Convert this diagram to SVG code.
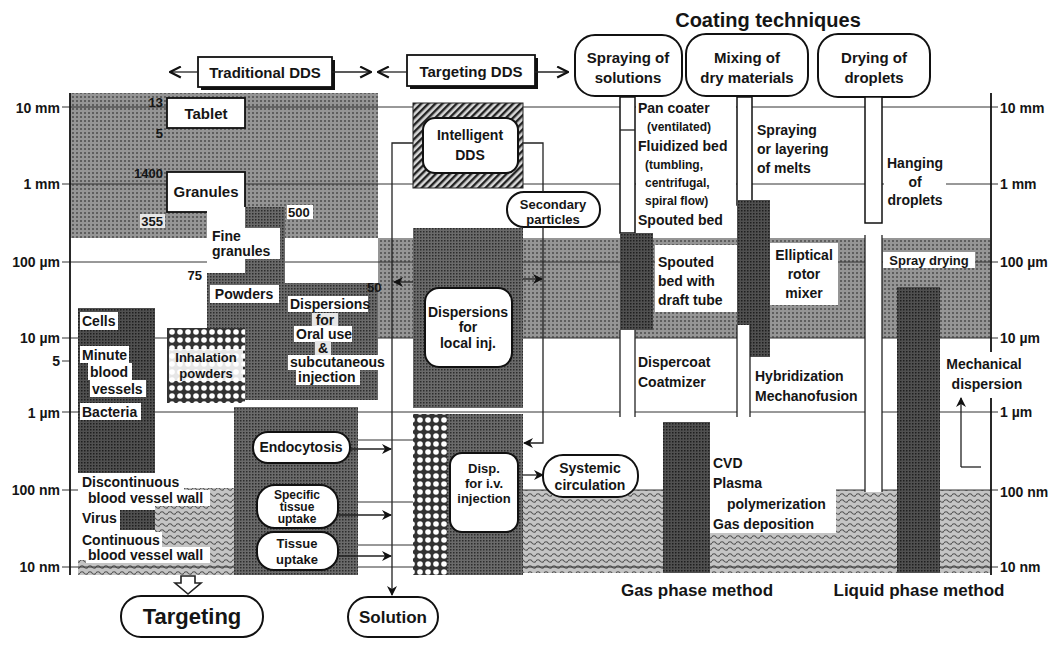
<svg xmlns="http://www.w3.org/2000/svg" width="1059" height="648" viewBox="0 0 1059 648">
<defs>
<pattern id="pStip" width="4" height="4" patternUnits="userSpaceOnUse"><rect width="4" height="4" fill="#959595"/><rect width="2" height="2" fill="#5e5e5e"/></pattern>
<pattern id="pDark" width="3" height="3" patternUnits="userSpaceOnUse"><rect width="3" height="3" fill="#6a6a6a"/><rect width="1.5" height="1.5" fill="#2c2c2c"/></pattern>
<pattern id="pVDark" width="3" height="3" patternUnits="userSpaceOnUse"><rect width="3" height="3" fill="#505050"/><rect width="1.5" height="1.5" fill="#1e1e1e"/></pattern>
<pattern id="pHatch" width="5" height="5" patternUnits="userSpaceOnUse" patternTransform="rotate(45)"><rect width="5" height="5" fill="#d8d8d8"/><rect width="2.4" height="5" fill="#222"/></pattern>
<pattern id="pCirc" width="8" height="8" patternUnits="userSpaceOnUse"><rect width="8" height="8" fill="#333"/><circle cx="4" cy="4" r="2.8" fill="#fff"/></pattern>
<pattern id="pWave" width="8" height="6" patternUnits="userSpaceOnUse"><rect width="8" height="6" fill="#c4c4c4"/><path d="M0 3 Q2 0.5 4 3 T8 3" fill="none" stroke="#555" stroke-width="1.2"/></pattern>
<marker id="ah" viewBox="0 0 10 10" refX="9" refY="5" markerWidth="10" markerHeight="10" orient="auto-start-reverse" markerUnits="userSpaceOnUse"><path d="M0 0 L10 5 L0 10 L3 5 Z" fill="#111"/></marker>
<marker id="chev" viewBox="0 0 12 12" refX="11" refY="6" markerWidth="13" markerHeight="13" orient="auto-start-reverse" markerUnits="userSpaceOnUse"><path d="M1 1 L11 6 L1 11" fill="none" stroke="#111" stroke-width="2"/></marker>
</defs>
<style>
text{font-family:"Liberation Sans",Arial,sans-serif;font-weight:bold;font-size:14px;fill:#151515;dominant-baseline:central}
.c{text-anchor:middle}
.e{text-anchor:end}
.s12{font-size:12px}
.s13{font-size:13px}
.s15{font-size:15px}
.s17{font-size:17px}
.ln{stroke:#222;stroke-width:1.3;fill:none}
.dl{stroke:#333;stroke-width:1;fill:none}
.bx{fill:#fff;stroke:#111;stroke-width:1.8}
.pill{fill:#fff;stroke:#111;stroke-width:2}
.wh{fill:#fff}
.lt{fill:#e6e6e6}
</style>
<rect width="1059" height="648" fill="#fff"/>

<g id="bands">
<rect x="70" y="93" width="308" height="145" fill="url(#pStip)"/>
<rect x="378" y="238" width="612" height="100" fill="url(#pStip)"/>
<rect x="523" y="490" width="467" height="83" fill="url(#pWave)"/>
<rect x="155" y="488" width="80" height="87" fill="url(#pWave)"/>
<rect x="78" y="560" width="77" height="15" fill="url(#pWave)"/>
</g>

<g id="scale">
<line class="dl" x1="62" y1="107" x2="998" y2="107"/>
<line class="dl" x1="62" y1="184" x2="998" y2="184"/>
<line class="dl" x1="62" y1="262" x2="998" y2="262"/>
<line class="dl" x1="62" y1="338" x2="998" y2="338"/>
<line class="dl" x1="62" y1="361" x2="70" y2="361"/>
<line class="dl" x1="62" y1="412" x2="998" y2="412"/>
<line class="dl" x1="62" y1="490" x2="78" y2="490"/>
<line class="dl" x1="523" y1="490" x2="998" y2="490"/>
<line class="dl" x1="62" y1="567" x2="998" y2="567"/>
<line x1="70" y1="93" x2="70" y2="575" stroke="#111" stroke-width="1.8"/>
<line x1="991" y1="93" x2="991" y2="352" stroke="#111" stroke-width="1.8"/>
<line x1="991" y1="398" x2="991" y2="575" stroke="#111" stroke-width="1.8"/>
<text x="60" y="108" class="e">10 mm</text>
<text x="60" y="184" class="e">1 mm</text>
<text x="60" y="262" class="e">100 µm</text>
<text x="60" y="338" class="e">10 µm</text>
<text x="60" y="361" class="e">5</text>
<text x="60" y="413" class="e">1 µm</text>
<text x="60" y="490" class="e">100 nm</text>
<text x="60" y="567" class="e">10 nm</text>
<text x="1000" y="108">10 mm</text>
<text x="1000" y="184">1 mm</text>
<text x="1000" y="262">100 µm</text>
<text x="1000" y="338">10 µm</text>
<text x="1000" y="412">1 µm</text>
<text x="1000" y="492">100 nm</text>
<text x="1000" y="567">10 nm</text>
</g>

<text x="768" y="20" class="c" style="font-size:20px">Coating techniques</text>

<g id="traditional-dds">
<rect x="201" y="60" width="134" height="30" fill="#111"/>
<rect x="198" y="57" width="134" height="30" class="bx"/>
<text x="265" y="72" class="c s15">Traditional DDS</text>
</g>
<g id="targeting-dds">
<rect x="410" y="58" width="128" height="31" fill="#111"/>
<rect x="407" y="55" width="128" height="31" class="bx"/>
<text x="471" y="71" class="c s15">Targeting DDS</text>
</g>
<g id="spraying-solutions">
<rect x="575" y="35" width="107" height="61" rx="20" class="pill" stroke-width="2.6"/>
<text x="628" y="57" class="c s15">Spraying of</text>
<text x="628" y="77" class="c s15">solutions</text>
</g>
<g id="mixing-dry">
<rect x="686" y="34" width="122" height="62" rx="20" class="pill" stroke-width="2.6"/>
<text x="747" y="57" class="c s15">Mixing of</text>
<text x="747" y="77" class="c s15">dry materials</text>
</g>
<g id="drying-droplets">
<rect x="818" y="34" width="112" height="63" rx="20" class="pill" stroke-width="2.6"/>
<text x="874" y="57" class="c s15">Drying of</text>
<text x="874" y="77" class="c s15">droplets</text>
</g>

<g id="tablet">
<rect x="167" y="98" width="78" height="30" class="bx"/>
<text x="206" y="113" class="c s15">Tablet</text>
<text x="163" y="102" class="e s13">13</text>
<text x="163" y="133" class="e s13">5</text>
</g>
<g id="granules">
<rect x="167" y="172" width="78" height="40" class="bx"/>
<text x="206" y="191" class="c s15">Granules</text>
<text x="163" y="173" class="e s13">1400</text>
<rect x="140" y="214" width="25" height="14" class="lt"/>
<text x="163" y="221" class="e s13">355</text>
</g>
<g id="fine-granules">
<rect x="207" y="207" width="78" height="193" fill="url(#pDark)"/>
<rect x="207" y="207" width="38" height="66" class="wh"/>
<rect x="207" y="228" width="73" height="31" class="wh"/>
<text x="212" y="236">Fine</text>
<text x="212" y="251">granules</text>
<rect x="287" y="205" width="26" height="14" class="wh"/>
<text x="288" y="212" class="s13">500</text>
<text x="202" y="275" class="e s13">75</text>
</g>
<g id="powders">
<rect x="210" y="285" width="69" height="18" class="wh"/>
<text x="244" y="294" class="c">Powders</text>
</g>
<g id="dispersions-oral">
<rect x="285" y="283" width="93" height="117" fill="url(#pDark)"/>
<rect x="288" y="296" width="80" height="16" class="wh"/>
<rect x="312" y="313" width="26" height="14" class="lt"/>
<rect x="294" y="326" width="58" height="16" class="wh"/>
<rect x="315" y="341" width="16" height="14" class="lt"/>
<rect x="288" y="355" width="99" height="15" class="wh"/>
<rect x="296" y="370" width="64" height="15" class="wh"/>
<text x="290" y="304">Dispersions</text>
<text x="325" y="320" class="c">for</text>
<text x="296" y="334">Oral use</text>
<text x="323" y="348" class="c">&amp;</text>
<text x="290" y="362">subcutaneous</text>
<text x="298" y="377">injection</text>
<text x="367" y="287" class="s13">50</text>
</g>
<g id="cells">
<rect x="78" y="308" width="77" height="165" fill="url(#pVDark)"/>
<rect x="80" y="312" width="38" height="18" class="wh"/>
<text x="82" y="321">Cells</text>
<rect x="80" y="346" width="49" height="17" class="wh"/>
<text x="82" y="355">Minute</text>
<rect x="88" y="363" width="44" height="17" class="wh"/>
<text x="90" y="372">blood</text>
<rect x="90" y="380" width="56" height="17" class="wh"/>
<text x="92" y="389">vessels</text>
<rect x="80" y="403" width="61" height="17" class="wh"/>
<text x="82" y="412">Bacteria</text>
</g>
<g id="inhalation">
<rect x="167" y="328" width="78" height="75" fill="url(#pCirc)"/>
<rect x="169" y="349" width="74" height="32" class="wh" opacity="0.88"/>
<text x="206" y="357" class="c s13">Inhalation</text>
<text x="206" y="373" class="c s13">powders</text>
</g>
<g id="vessel-walls">
<rect x="80" y="474" width="104" height="16" class="wh"/>
<text x="82" y="482">Discontinuous</text>
<rect x="86" y="490" width="124" height="16" class="wh"/>
<text x="88" y="498">blood vessel wall</text>
<rect x="80" y="510" width="40" height="17" class="wh"/>
<text x="82" y="518">Virus</text>
<rect x="120" y="510" width="35" height="20" fill="url(#pVDark)"/>
<rect x="80" y="532" width="82" height="16" class="wh"/>
<text x="82" y="540">Continuous</text>
<rect x="86" y="547" width="124" height="16" class="wh"/>
<text x="88" y="555">blood vessel wall</text>
</g>
<g id="endocytosis-block">
<rect x="234" y="407" width="124" height="168" fill="url(#pDark)"/>
<rect x="253" y="432" width="97" height="31" rx="15" class="pill"/>
<text x="301" y="447" class="c">Endocytosis</text>
<rect x="257" y="485" width="81" height="43" rx="18" class="pill"/>
<text x="297" y="495" class="c s12">Specific</text>
<text x="297" y="507" class="c s12">tissue</text>
<text x="297" y="519" class="c s12">uptake</text>
<rect x="257" y="532" width="81" height="38" rx="17" class="pill"/>
<text x="297" y="543" class="c s13">Tissue</text>
<text x="297" y="559" class="c s13">uptake</text>
</g>
<g id="targeting">
<polygon points="181,576 195,576 195,583 201,583 188,594 175,583 181,583" fill="#fff" stroke="#222" stroke-width="1.6"/>
<rect x="121" y="596" width="142" height="41" rx="20" class="pill" stroke-width="2.6"/>
<text x="192" y="616" class="c" style="font-size:22px">Targeting</text>
</g>
<g id="solution">
<rect x="348" y="597" width="90" height="40" rx="20" class="pill" stroke-width="2.4"/>
<text x="393" y="617" class="c s17">Solution</text>
</g>
<g id="intelligent-dds">
<rect x="413" y="103" width="110" height="85" fill="url(#pHatch)" stroke="#222" stroke-width="1"/>
<rect x="423" y="118" width="95" height="55" rx="12" class="pill" stroke-width="1.5"/>
<text x="470" y="135" class="c">Intelligent</text>
<text x="470" y="155" class="c">DDS</text>
</g>
<g id="secondary-particles">
<rect x="507" y="192" width="93" height="35" rx="17" class="pill"/>
<text x="553" y="204" class="c s13">Secondary</text>
<text x="553" y="219" class="c s13">particles</text>
</g>
<g id="dispersions-local">
<rect x="413" y="228" width="110" height="180" fill="url(#pDark)"/>
<rect x="425" y="288" width="87" height="79" rx="14" class="pill" stroke-width="1.5"/>
<text x="468" y="312" class="c">Dispersions</text>
<text x="468" y="327" class="c">for</text>
<text x="468" y="343" class="c">local inj.</text>
</g>
<g id="disp-iv">
<rect x="413" y="414" width="34" height="161" fill="url(#pCirc)"/>
<rect x="447" y="414" width="76" height="161" fill="url(#pDark)"/>
<rect x="450" y="453" width="68" height="79" rx="12" class="pill" stroke-width="1.5"/>
<text x="484" y="468" class="c s13">Disp.</text>
<text x="484" y="483" class="c s13">for i.v.</text>
<text x="484" y="498" class="c s13">injection</text>
</g>
<g id="systemic-circulation">
<rect x="543" y="455" width="95" height="42" rx="20" class="pill"/>
<text x="590" y="468" class="c">Systemic</text>
<text x="590" y="485" class="c">circulation</text>
</g>

<g id="spraying-column">
<rect x="636" y="97" width="100" height="135" class="wh"/>
<rect x="620" y="97" width="15" height="136" class="wh" stroke="#111" stroke-width="1.5"/>
<line class="ln" x1="620" y1="130" x2="635" y2="130"/>
<rect x="620" y="233" width="33" height="97" fill="url(#pVDark)"/>
<rect x="620" y="330" width="15" height="87" class="wh"/>
<line class="ln" x1="620" y1="330" x2="620" y2="417"/>
<line class="ln" x1="635" y1="330" x2="635" y2="417"/>
<rect x="655" y="245" width="82" height="67" class="wh"/>
<text x="638" y="108">Pan coater</text>
<text x="647" y="127" class="s12">(ventilated)</text>
<text x="638" y="146">Fluidized bed</text>
<text x="645" y="165" class="s12">(tumbling,</text>
<text x="645" y="183" class="s12">centrifugal,</text>
<text x="645" y="201" class="s12">spiral flow)</text>
<text x="638" y="220">Spouted bed</text>
<text x="658" y="262">Spouted</text>
<text x="658" y="281">bed with</text>
<text x="658" y="300">draft tube</text>
<text x="638" y="362">Dispercoat</text>
<text x="638" y="382">Coatmizer</text>
</g>
<g id="mixing-column">
<rect x="737" y="97" width="15" height="108" class="wh" stroke="#111" stroke-width="1.5"/>
<rect x="737" y="200" width="33" height="157" fill="url(#pVDark)"/>
<rect x="737" y="325" width="13" height="92" class="wh"/>
<line class="ln" x1="737" y1="325" x2="737" y2="417"/>
<line class="ln" x1="750" y1="325" x2="750" y2="417"/>
<rect x="770" y="243" width="68" height="62" class="wh"/>
<text x="757" y="130">Spraying</text>
<text x="757" y="149">or layering</text>
<text x="757" y="168">of melts</text>
<text x="804" y="255" class="c">Elliptical</text>
<text x="804" y="274" class="c">rotor</text>
<text x="804" y="293" class="c">mixer</text>
<text x="755" y="376">Hybridization</text>
<text x="755" y="396">Mechanofusion</text>
</g>
<g id="drying-column">
<rect x="865" y="97" width="17" height="126" class="wh" stroke="#111" stroke-width="1.5"/>
<rect x="865" y="235" width="17" height="257" class="wh"/>
<line class="ln" x1="865" y1="235" x2="865" y2="492"/>
<line class="ln" x1="882" y1="235" x2="882" y2="492"/>
<rect x="884" y="150" width="62" height="60" class="wh"/>
<text x="915" y="163" class="c">Hanging</text>
<text x="915" y="182" class="c">of</text>
<text x="915" y="200" class="c">droplets</text>
<rect x="883" y="252" width="92" height="16" class="wh"/>
<text x="929" y="260" class="c s13">Spray drying</text>
<rect x="897" y="287" width="43" height="286" fill="url(#pVDark)"/>
<text x="984" y="364" class="c">Mechanical</text>
<text x="987" y="384" class="c">dispersion</text>
</g>
<g id="gas-phase">
<rect x="663" y="422" width="47" height="151" fill="url(#pVDark)"/>
<rect x="710" y="448" width="126" height="85" class="wh"/>
<text x="713" y="463">CVD</text>
<text x="713" y="483">Plasma</text>
<text x="727" y="504">polymerization</text>
<text x="713" y="524">Gas deposition</text>
</g>
<text x="697" y="590" class="c s17">Gas phase method</text>
<text x="919" y="590" class="c s17">Liquid phase method</text>

<g id="connectors">
<line class="ln" x1="170" y1="72" x2="198" y2="72" marker-start="url(#chev)"/>
<line class="ln" x1="332" y1="72" x2="371" y2="72" marker-end="url(#chev)"/>
<line class="ln" x1="378" y1="72" x2="407" y2="72" marker-start="url(#chev)"/>
<line class="ln" x1="535" y1="72" x2="568" y2="72" marker-end="url(#chev)"/>
<polyline class="ln" points="413,143 392,143 392,595" marker-end="url(#ah)"/>
<polyline class="ln" points="523,143 543,143 543,192"/>
<polyline class="ln" points="543,227 543,443 524,443" marker-end="url(#ah)"/>
<line class="ln" x1="523" y1="279" x2="542" y2="279" marker-end="url(#ah)"/>
<line class="ln" x1="413" y1="282" x2="394" y2="282" marker-end="url(#ah)"/>
<line class="ln" x1="523" y1="475" x2="543" y2="475" marker-end="url(#ah)"/>
<line class="dl" x1="358" y1="440" x2="413" y2="440"/>
<line class="dl" x1="358" y1="502" x2="413" y2="502"/>
<line class="dl" x1="358" y1="545" x2="413" y2="545"/>
<line class="ln" x1="350" y1="449" x2="391" y2="449" marker-end="url(#ah)"/>
<line class="ln" x1="338" y1="515" x2="391" y2="515" marker-end="url(#ah)"/>
<line class="ln" x1="338" y1="556" x2="391" y2="556" marker-end="url(#ah)"/>
<line class="ln" x1="961" y1="467" x2="961" y2="398" marker-end="url(#ah)"/>
<line class="ln" x1="961" y1="467" x2="981" y2="467"/>
</g>
</svg>
